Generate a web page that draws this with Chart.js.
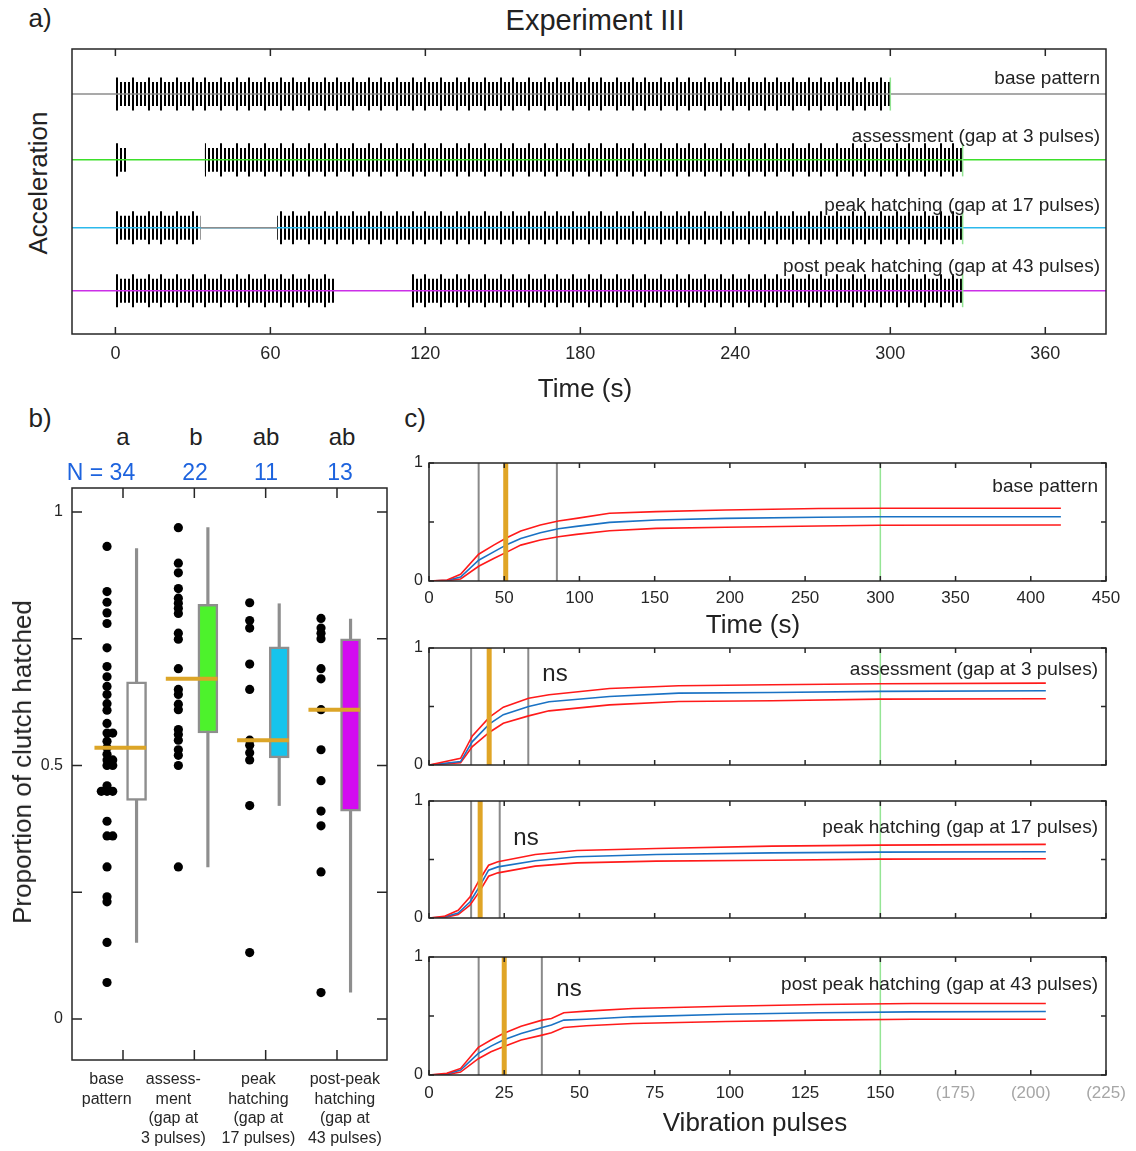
<!DOCTYPE html>
<html>
<head>
<meta charset="utf-8">
<script src="https://cdn.jsdelivr.net/npm/chart.js@4.4.1/dist/chart.umd.min.js"></script>
<style>
  body { margin: 0; background: #fff; font-family: "Liberation Sans", Arial, Helvetica, sans-serif; }
  #page { position: relative; width: 1136px; height: 1151px; overflow: hidden; }
  canvas { position: absolute; }
  .t { position: absolute; white-space: nowrap; color: #222; line-height: 1; transform: translate(-50%, -50%); }
  .r { position: absolute; white-space: nowrap; color: #222; line-height: 1; transform: translate(-100%, -50%); }
  .v { position: absolute; white-space: nowrap; color: #222; line-height: 1; transform: translate(-50%, -50%) rotate(-90deg); }
  .n { color: #1d63de; }
</style>
</head>
<body>
<div id="page">
  <canvas id="cvA" width="1076" height="340" style="left:60px;top:40px"></canvas>
  <canvas id="cvB" width="400" height="671" style="left:0;top:480px"></canvas>
  <canvas id="cvC1" width="756" height="160" style="left:380px;top:451px"></canvas>
  <canvas id="cvC2" width="756" height="141" style="left:380px;top:636px"></canvas>
  <canvas id="cvC3" width="756" height="141" style="left:380px;top:789px"></canvas>
  <canvas id="cvC4" width="756" height="166" style="left:380px;top:945px"></canvas>

  <div class="t" style="left:40px;top:18px;font-size:26px">a)</div>
  <div class="t" style="left:595px;top:20px;font-size:29px">Experiment III</div>
  <div class="v" style="left:38px;top:183px;font-size:26px">Acceleration</div>
  <div class="t" style="left:585px;top:388px;font-size:26px">Time (s)</div>
  <div id="traceLabels"></div>

  <div class="t" style="left:40px;top:418px;font-size:26px">b)</div>
  <div class="t" style="left:415px;top:418px;font-size:26px">c)</div>
  <div id="groupHeads"></div>
  <div class="v" style="left:22px;top:762px;font-size:26px">Proportion of clutch hatched</div>

  <div class="t" style="left:753px;top:624px;font-size:26px">Time (s)</div>
  <div class="t" style="left:755px;top:1122px;font-size:26px">Vibration pulses</div>
  <div id="curveLabels"></div>
</div>

<script>
// ---- panel a: stimulus traces, seconds ----
const traceNames = ["base pattern", "assessment (gap at 3 pulses)", "peak hatching (gap at 17 pulses)", "post peak hatching (gap at 43 pulses)"];
const traceColors = ["#8c8c8c", "#3ddf2a", "#2cb9ec", "#cc30e8"];
const traceSegments = [
  [[0, 300]],
  [[0, 4.8], [34.6, 328]],
  [[0, 33], [62.6, 328]],
  [[0, 85.2], [114.6, 328]]
];
const traceEnds = [300, 328, 328, 328];
const peakGap = [33, 62.6];
const timeTicks = [0, 60, 120, 180, 240, 300, 360];

// ---- panel b: proportion of clutch hatched ----
const groupLabels = [["base", "pattern"], ["assess-", "ment", "(gap at", "3 pulses)"], ["peak", "hatching", "(gap at", "17 pulses)"], ["post-peak", "hatching", "(gap at", "43 pulses)"]];
const groupLetters = ["a", "b", "ab", "ab"];
const groupN = ["N = 34", "22", "11", "13"];
const baseHatch = [0.932, 0.843, 0.822, 0.801, 0.780, 0.732, 0.695, 0.675, 0.656, 0.640, 0.622, 0.609, 0.583, 0.564, 0.564, 0.548, 0.535, 0.522, 0.511, 0.511, 0.500, 0.500, 0.460, 0.449, 0.449, 0.449, 0.390, 0.361, 0.361, 0.300, 0.241, 0.231, 0.151, 0.072];
const assessHatch = [0.969, 0.899, 0.880, 0.849, 0.830, 0.820, 0.810, 0.800, 0.761, 0.749, 0.691, 0.650, 0.640, 0.621, 0.610, 0.571, 0.561, 0.550, 0.531, 0.520, 0.500, 0.300];
const peakHatch = [0.821, 0.786, 0.771, 0.700, 0.650, 0.550, 0.540, 0.525, 0.511, 0.421, 0.131];
const postHatch = [0.790, 0.771, 0.761, 0.750, 0.691, 0.671, 0.610, 0.531, 0.470, 0.410, 0.381, 0.290, 0.052];
const boxQ1 = [0.431, 0.564, 0.515, 0.410];
const boxQ3 = [0.665, 0.818, 0.734, 0.750];
const boxMedian = [0.535, 0.671, 0.550, 0.610];
const whiskerLo = [0.151, 0.300, 0.421, 0.053];
const whiskerHi = [0.928, 0.969, 0.819, 0.789];
const boxColors = ["#ffffff", "#4df22c", "#16c4ec", "#d30bf1"];
const propTicks = [0, 0.25, 0.5, 0.75, 1];

// ---- panel c: cumulative hatching, mean and limits ----
const c1Time  = [0, 12, 21, 33, 43, 52, 61, 74, 86, 98, 120, 151, 197, 259, 299, 420];
const c1Mean  = [0, 0.006, 0.034, 0.176, 0.247, 0.310, 0.361, 0.409, 0.443, 0.463, 0.497, 0.517, 0.531, 0.540, 0.545, 0.545];
const c1Upper = [0, 0.009, 0.057, 0.227, 0.304, 0.369, 0.423, 0.474, 0.509, 0.531, 0.574, 0.588, 0.602, 0.614, 0.616, 0.616];
const c1Lower = [0, 0.003, 0.017, 0.125, 0.190, 0.247, 0.304, 0.347, 0.375, 0.395, 0.426, 0.446, 0.455, 0.466, 0.472, 0.474];

const c2Pulses = [0, 10.5, 14.4, 20.1, 24.7, 33.1, 39.9, 60, 83, 114, 150, 205];
const c2Mean   = [0, 0.029, 0.200, 0.351, 0.430, 0.500, 0.540, 0.586, 0.614, 0.620, 0.629, 0.634];
const c2Upper  = [0, 0.057, 0.249, 0.409, 0.494, 0.571, 0.600, 0.654, 0.677, 0.686, 0.694, 0.700];
const c2Lower  = [0, 0.020, 0.157, 0.280, 0.357, 0.420, 0.463, 0.514, 0.543, 0.549, 0.563, 0.566];

const c3Pulses = [0, 5, 9.7, 13.6, 16.7, 19.8, 22.9, 35.3, 49.2, 75.5, 114, 150, 205];
const c3Mean   = [0, 0.009, 0.043, 0.137, 0.266, 0.409, 0.437, 0.489, 0.523, 0.543, 0.557, 0.563, 0.566];
const c3Upper  = [0, 0.014, 0.066, 0.180, 0.323, 0.451, 0.480, 0.543, 0.577, 0.594, 0.614, 0.623, 0.629];
const c3Lower  = [0, 0.003, 0.029, 0.109, 0.223, 0.357, 0.386, 0.443, 0.471, 0.486, 0.494, 0.503, 0.506];

const c4Pulses = [0, 5.9, 10.5, 16.4, 20.6, 24.7, 30.6, 37.6, 40.7, 44.8, 52.3, 67.7, 98.7, 129.6, 160.5, 205];
const c4Mean   = [0, 0.008, 0.042, 0.183, 0.245, 0.296, 0.352, 0.403, 0.423, 0.465, 0.473, 0.493, 0.515, 0.527, 0.535, 0.538];
const c4Upper  = [0, 0.014, 0.056, 0.234, 0.296, 0.352, 0.414, 0.465, 0.479, 0.527, 0.541, 0.563, 0.583, 0.597, 0.606, 0.606];
const c4Lower  = [0, 0.003, 0.025, 0.138, 0.197, 0.239, 0.296, 0.338, 0.358, 0.403, 0.417, 0.437, 0.454, 0.465, 0.473, 0.473];

// gap edges (grey), median hatching (orange), end of stimulus (green)
const cGapMarks    = [[33, 85], [14, 33], [14, 23.5], [16.5, 37.5]];
const cMedianMarks = [51, 20, 17, 25];
const cEndMarks    = [300, 150, 150, 150];
const cNs          = [false, true, true, true];
const secTicks   = [0, 50, 100, 150, 200, 250, 300, 350, 400, 450];
const pulseTicks = [0, 25, 50, 75, 100, 125, 150, 175, 200, 225];
const pulseMax   = 150; // ticks past the stimulus are shown in brackets

// ------------------------------------------------------------------
const FONT = '"Liberation Sans", Arial, Helvetica, sans-serif';
Chart.defaults.font.family = FONT;
Chart.defaults.color = "#262626";
Chart.defaults.animation = false;
Chart.defaults.plugins.legend.display = false;
Chart.defaults.plugins.tooltip.enabled = false;

// matlab style axes box with inward ticks on all sides
const boxFrame = {
  id: "boxFrame",
  afterDatasetsDraw(chart, args, opts) {
    const { ctx, chartArea: a, scales } = chart;
    const len = opts.len || 7;
    ctx.save();
    ctx.strokeStyle = "#262626";
    ctx.lineWidth = 1.5;
    ctx.beginPath();
    (opts.xTicks || []).forEach(v => {
      const px = scales.x.getPixelForValue(v);
      ctx.moveTo(px, a.top); ctx.lineTo(px, a.top + len);
      ctx.moveTo(px, a.bottom); ctx.lineTo(px, a.bottom - len);
    });
    (opts.yTicks || []).forEach(v => {
      const py = scales.y.getPixelForValue(v);
      ctx.moveTo(a.left, py); ctx.lineTo(a.left + len, py);
      ctx.moveTo(a.right, py); ctx.lineTo(a.right - len, py);
    });
    ctx.stroke();
    ctx.strokeRect(a.left, a.top, a.right - a.left, a.bottom - a.top);
    ctx.restore();
  }
};
Chart.register(boxFrame);

function setTicks(list) {
  return s => { s.ticks = list.map(v => ({ value: v })); };
}
// fixed axis size, and no extra room reserved for overhanging labels
function fixHeight(h) {
  return s => { s.height = h; s.paddingLeft = s.paddingRight = 0; };
}
function fixWidth(w) {
  return s => { s.width = w; s.paddingTop = s.paddingBottom = 0; };
}
const noGrid = { display: false, tickLength: 0 };

function addText(parentId, cls, x, y, size, text, extra) {
  const d = document.createElement("div");
  d.className = cls + (extra ? " " + extra : "");
  d.style.left = x + "px";
  d.style.top = y + "px";
  d.style.fontSize = size + "px";
  d.textContent = text;
  document.getElementById(parentId).appendChild(d);
}

// ---- panel a ----
const levels = [0.842, 0.611, 0.373, 0.152];   // vertical offset of each trace
const amp = 0.042, ampPeak = 0.058;
const A_MIN = -16.8, A_MAX = 383.5;

function stripes(width, marks) {
  const tile = document.createElement("canvas");
  tile.width = width; tile.height = 4;
  const c = tile.getContext("2d");
  c.fillStyle = "#000";
  marks.forEach(m => c.fillRect(m, 0, 2, 4));
  return c.createPattern(tile, "repeat");
}
const pulseFill = stripes(4, [0]);
const spikeFill = stripes(44, [0, 12, 28]);

const aSets = [];
traceSegments.forEach((segs, i) => {
  segs.forEach(([s, e]) => {
    [[amp, pulseFill], [ampPeak, spikeFill]].forEach(([h, fillPat]) => {
      aSets.push({
        data: [{ x: s, y: levels[i] + h }, { x: e, y: levels[i] + h }],
        borderColor: "transparent", borderWidth: 0, backgroundColor: fillPat, fill: "+1", order: 3
      });
      aSets.push({
        data: [{ x: s, y: levels[i] - h }, { x: e, y: levels[i] - h }],
        borderColor: "transparent", borderWidth: 0, fill: false, order: 3
      });
    });
  });
});
traceColors.forEach((c, i) => {
  aSets.push({
    data: [{ x: A_MIN, y: levels[i] }, { x: A_MAX, y: levels[i] }],
    borderColor: c, borderWidth: 1.5, fill: false, order: 1
  });
  aSets.push({
    data: [{ x: traceEnds[i], y: levels[i] - ampPeak }, { x: traceEnds[i], y: levels[i] + ampPeak }],
    borderColor: "#92e392", borderWidth: 1.5, fill: false, order: 0
  });
});
aSets.push({
  data: [{ x: peakGap[0], y: levels[2] }, { x: peakGap[1], y: levels[2] }],
  borderColor: "#8c8c8c", borderWidth: 1.5, fill: false, order: 0
});

new Chart(document.getElementById("cvA"), {
  type: "line",
  data: { datasets: aSets },
  options: {
    responsive: false,
    layout: { padding: { left: 12, top: 9, right: 30, bottom: 0 } },
    elements: { point: { radius: 0 }, line: { tension: 0 } },
    plugins: { boxFrame: { xTicks: timeTicks, len: 7 } },
    scales: {
      x: {
        type: "linear", min: A_MIN, max: A_MAX,
        grid: noGrid, border: { display: false },
        afterBuildTicks: setTicks(timeTicks),
        afterFit: fixHeight(46),
        ticks: { font: { size: 18 }, padding: 9, maxRotation: 0, autoSkip: false, color: "#262626" }
      },
      y: { display: false, min: 0, max: 1 }
    }
  }
});

traceNames.forEach((name, i) => {
  addText("traceLabels", "r", 1100, [77, 135, 204, 265][i], 19, name);
});

// ---- panel b ----
const DOT_OFF = -0.224, JIT = 0.08, BOX_OFF = 0.19;
const labelPos = [0.771, 1.706, 2.898, 4.11];   // where the group names sit
const groupPos = [1, 2, 3, 4];

function jittered(vals, pos) {
  const seen = {};
  return vals.map(v => {
    const k = v.toFixed(3);
    const n = seen[k] = (seen[k] || 0) + 1;
    const shift = [0, 1, -1][n - 1] || 0;
    return { x: pos + DOT_OFF + shift * JIT, y: v };
  });
}

const bSets = [];
boxMedian.forEach((m, i) => {
  bSets.push({
    type: "line",
    data: [{ x: groupPos[i] - 0.40, y: m }, { x: groupPos[i] + 0.325, y: m }],
    borderColor: "#dca527", borderWidth: 4, pointRadius: 0, fill: false, order: 0
  });
});
[baseHatch, assessHatch, peakHatch, postHatch].forEach((vals, i) => {
  bSets.push({
    type: "scatter",
    data: jittered(vals, groupPos[i]),
    pointRadius: 4.6, pointBackgroundColor: "#000", pointBorderWidth: 0, order: 1
  });
});
bSets.push({
  type: "bar",
  data: groupPos.map((p, i) => ({ x: p + BOX_OFF, y: [boxQ1[i], boxQ3[i]] })),
  backgroundColor: boxColors, borderColor: "#8e8e8e", borderWidth: 2.5, borderSkipped: false,
  barThickness: 20, grouped: false, order: 2
});
bSets.push({
  type: "bar",
  data: groupPos.map((p, i) => ({ x: p + BOX_OFF, y: [whiskerLo[i], whiskerHi[i]] })),
  backgroundColor: "#8e8e8e", borderWidth: 0, barThickness: 2.5, grouped: false, order: 3
});

new Chart(document.getElementById("cvB"), {
  type: "scatter",
  data: { datasets: bSets },
  options: {
    responsive: false,
    layout: { padding: { left: 0, top: 8, right: 13, bottom: 0 } },
    plugins: { boxFrame: { xTicks: groupPos, yTicks: propTicks, len: 10 } },
    scales: {
      x: {
        type: "linear", min: 0.285, max: 4.701, offset: false,
        grid: noGrid, border: { display: false },
        afterBuildTicks: setTicks(labelPos),
        afterFit: fixHeight(91),
        ticks: {
          font: { size: 16, lineHeight: 1.22 }, padding: 10, maxRotation: 0, autoSkip: false, color: "#262626",
          callback: (v, idx) => groupLabels[idx]
        }
      },
      y: {
        type: "linear", min: -0.0809, max: 1.0473,
        grid: noGrid, border: { display: false },
        afterBuildTicks: setTicks(propTicks),
        afterFit: fixWidth(72),
        ticks: { font: { size: 16 }, padding: 9, color: "#262626",
          callback: v => (v === 0 || v === 0.5 || v === 1) ? String(v) : "" }
      }
    }
  }
});

const headX = [123, 196, 266, 342];
groupLetters.forEach((l, i) => addText("groupHeads", "t", headX[i], 437, 24, l));
const nX = [101, 195, 266, 340];
groupN.forEach((l, i) => addText("groupHeads", "t", nX[i], 472, 23, l, "n"));

// ---- panel c ----
function pts(xs, ys) { return xs.map((x, i) => ({ x, y: ys[i] })); }
function vLine(x, color, width, order) {
  return { data: [{ x, y: 0 }, { x, y: 1 }], borderColor: color, borderWidth: width, pointRadius: 0, fill: false, order };
}

const cConfigs = [
  { id: "cvC1", xs: c1Time, mean: c1Mean, up: c1Upper, lo: c1Lower, max: 450, ticks: secTicks, labels: true, xh: 30, pb: 0 },
  { id: "cvC2", xs: c2Pulses, mean: c2Mean, up: c2Upper, lo: c2Lower, max: 225, ticks: pulseTicks, labels: false, xh: 0, pb: 12 },
  { id: "cvC3", xs: c3Pulses, mean: c3Mean, up: c3Upper, lo: c3Lower, max: 225, ticks: pulseTicks, labels: false, xh: 0, pb: 12 },
  { id: "cvC4", xs: c4Pulses, mean: c4Mean, up: c4Upper, lo: c4Lower, max: 225, ticks: pulseTicks, labels: true, xh: 36, pb: 0 }
];

cConfigs.forEach((cfg, k) => {
  const sets = [
    vLine(cMedianMarks[k], "#e0a526", 5, 0),
    { data: pts(cfg.xs, cfg.up), borderColor: "#ff1a1a", borderWidth: 1.6, order: 1 },
    { data: pts(cfg.xs, cfg.mean), borderColor: "#1a72c4", borderWidth: 1.6, order: 1 },
    { data: pts(cfg.xs, cfg.lo), borderColor: "#ff1a1a", borderWidth: 1.6, order: 1 },
    vLine(cEndMarks[k], "#95e595", 1.5, 2)
  ];
  cGapMarks[k].forEach(g => sets.push(vLine(g, "#8a8a8a", 2, 2)));

  new Chart(document.getElementById(cfg.id), {
    type: "line",
    data: { datasets: sets },
    options: {
      responsive: false,
      layout: { padding: { left: 0, top: 12, right: 30, bottom: cfg.pb } },
      elements: { point: { radius: 0 }, line: { tension: 0, fill: false } },
      plugins: { boxFrame: { xTicks: cfg.ticks, yTicks: [0, 0.5, 1], len: 5 } },
      scales: {
        x: {
          type: "linear", min: 0, max: cfg.max,
          grid: noGrid, border: { display: false },
          afterBuildTicks: setTicks(cfg.ticks),
          afterFit: fixHeight(cfg.xh),
          ticks: {
            display: cfg.labels, font: { size: 17 }, padding: k === 3 ? 8 : 7, maxRotation: 0, autoSkip: false,
            color: c => (cfg.max === 225 && c.tick && c.tick.value > pulseMax) ? "#a6a6a6" : "#262626",
            callback: v => (cfg.max === 225 && v > pulseMax) ? "(" + v + ")" : String(v)
          }
        },
        y: {
          type: "linear", min: 0, max: 1,
          grid: noGrid, border: { display: false },
          afterBuildTicks: setTicks([0, 0.5, 1]),
          afterFit: fixWidth(49),
          ticks: { font: { size: 16 }, padding: 6, color: "#262626",
            callback: v => (v === 0 || v === 1) ? String(v) : "" }
        }
      }
    }
  });
});

const curveLabelY = [485, 668, 826, 983];
traceNames.forEach((name, i) => addText("curveLabels", "r", 1098, curveLabelY[i], 19, name));
const nsPos = [null, [555, 673], [526, 837], [569, 988]];
cNs.forEach((on, i) => { if (on) addText("curveLabels", "t", nsPos[i][0], nsPos[i][1], 24, "ns"); });
</script>
</body>
</html>
